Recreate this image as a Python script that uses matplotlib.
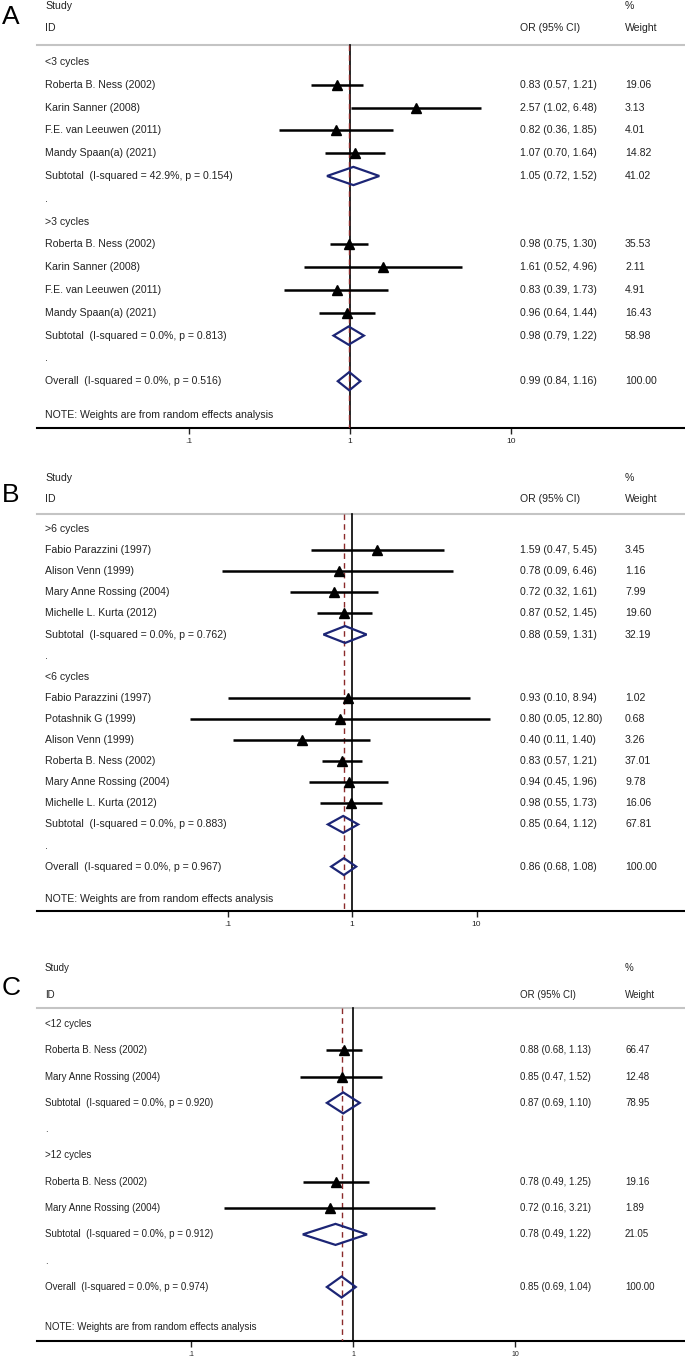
import matplotlib.pyplot as plt
from matplotlib.patches import Polygon
from matplotlib.ticker import NullLocator

plt.rcParams['font.family'] = ['Liberation Sans', 'DejaVu Sans']

# ---------------- Panel A ----------------
a_groups = ["<3 cycles", ">3 cycles"]
a_studies = [["Roberta B. Ness (2002)", "Karin Sanner (2008)", "F.E. van Leeuwen (2011)", "Mandy Spaan(a) (2021)"],
             ["Roberta B. Ness (2002)", "Karin Sanner (2008)", "F.E. van Leeuwen (2011)", "Mandy Spaan(a) (2021)"]]
a_or = [[0.83, 2.57, 0.82, 1.07], [0.98, 1.61, 0.83, 0.96]]
a_lo = [[0.57, 1.02, 0.36, 0.70], [0.75, 0.52, 0.39, 0.64]]
a_hi = [[1.21, 6.48, 1.85, 1.64], [1.30, 4.96, 1.73, 1.44]]
a_w = [[19.06, 3.13, 4.01, 14.82], [35.53, 2.11, 4.91, 16.43]]
a_sub_text = ["Subtotal  (I-squared = 42.9%, p = 0.154)", "Subtotal  (I-squared = 0.0%, p = 0.813)"]
a_sub = [(1.05, 0.72, 1.52, 41.02), (0.98, 0.79, 1.22, 58.98)]
a_all_text = "Overall  (I-squared = 0.0%, p = 0.516)"
a_all = (0.99, 0.84, 1.16, 100.00)

# ---------------- Panel B ----------------
b_groups = [">6 cycles", "<6 cycles"]
b_studies = [["Fabio Parazzini (1997)", "Alison Venn (1999)", "Mary Anne Rossing (2004)", "Michelle L. Kurta (2012)"],
             ["Fabio Parazzini (1997)", "Potashnik G (1999)", "Alison Venn (1999)", "Roberta B. Ness (2002)",
              "Mary Anne Rossing (2004)", "Michelle L. Kurta (2012)"]]
b_or = [[1.59, 0.78, 0.72, 0.87], [0.93, 0.80, 0.40, 0.83, 0.94, 0.98]]
b_lo = [[0.47, 0.09, 0.32, 0.52], [0.10, 0.05, 0.11, 0.57, 0.45, 0.55]]
b_hi = [[5.45, 6.46, 1.61, 1.45], [8.94, 12.80, 1.40, 1.21, 1.96, 1.73]]
b_w = [[3.45, 1.16, 7.99, 19.60], [1.02, 0.68, 3.26, 37.01, 9.78, 16.06]]
b_sub_text = ["Subtotal  (I-squared = 0.0%, p = 0.762)", "Subtotal  (I-squared = 0.0%, p = 0.883)"]
b_sub = [(0.88, 0.59, 1.31, 32.19), (0.85, 0.64, 1.12, 67.81)]
b_all_text = "Overall  (I-squared = 0.0%, p = 0.967)"
b_all = (0.86, 0.68, 1.08, 100.00)

# ---------------- Panel C ----------------
c_groups = ["<12 cycles", ">12 cycles"]
c_studies = [["Roberta B. Ness (2002)", "Mary Anne Rossing (2004)"],
             ["Roberta B. Ness (2002)", "Mary Anne Rossing (2004)"]]
c_or = [[0.88, 0.85], [0.78, 0.72]]
c_lo = [[0.68, 0.47], [0.49, 0.16]]
c_hi = [[1.13, 1.52], [1.25, 3.21]]
c_w = [[66.47, 12.48], [19.16, 1.89]]
c_sub_text = ["Subtotal  (I-squared = 0.0%, p = 0.920)", "Subtotal  (I-squared = 0.0%, p = 0.912)"]
c_sub = [(0.87, 0.69, 1.10, 78.95), (0.78, 0.49, 1.22, 21.05)]
c_all_text = "Overall  (I-squared = 0.0%, p = 0.974)"
c_all = (0.85, 0.69, 1.04, 100.00)

tick_vals = [0.1, 1, 10]
tick_text = [".1", "1", "10"]
note_text = "NOTE: Weights are from random effects analysis"

W, H = 685, 1357
TXT = '#222222'
NAVY = '#1c2575'
RED = '#8b2a2a'

fig = plt.figure(figsize=(W / 100, H / 100), dpi=100)


def draw_panel(letter, groups, studies, ors, los, his, ws, sub_text, subs, all_text, overall,
               study_y, id_y, rule_y, row0, step, note_y, axis_y, one_px, decade, fs, tfs, letter_y):
    # axes spans the x axis line (px 37 -> 685) and the panel height
    top = study_y - 12
    ax = fig.add_axes([37 / W, 1 - axis_y / H, 648 / W, (axis_y - top) / H])
    ax.set_xscale('log')
    ax.set_xlim(10 ** ((37 - one_px) / decade), 10 ** ((685 - one_px) / decade))
    ax.set_ylim(axis_y, top)
    for s in ['left', 'right', 'top']:
        ax.spines[s].set_visible(False)
    ax.spines['bottom'].set_linewidth(1.5)
    ax.set_yticks([])
    ax.set_xticks(tick_vals)
    ax.set_xticklabels(tick_text)
    ax.xaxis.set_minor_locator(NullLocator())
    ax.tick_params(axis='x', direction='out', length=4, width=1, labelsize=tfs, pad=3, colors=TXT)

    tr = ax.get_yaxis_transform()
    xl = (45 - 37) / 648
    xo = (520 - 37) / 648
    xw = (625 - 37) / 648

    def txt(x, y, s):
        ax.text(x, y, s, transform=tr, fontsize=fs, color=TXT, va='center', ha='left', clip_on=False)

    def diamond(y, est, lo, hi):
        h = step * 0.4
        ax.add_patch(Polygon([(lo, y), (est, y - h), (hi, y), (est, y + h)], closed=True,
                             facecolor='none', edgecolor=NAVY, lw=1.6, zorder=4))

    txt(xl, study_y, "Study")
    txt(xl, id_y, "ID")
    txt(xw, study_y, "%")
    txt(xo, id_y, "OR (95% CI)")
    txt(xw, id_y, "Weight")
    ax.axhline(rule_y, color='#c4c4c4', lw=1.5, clip_on=False)

    # reference line at 1 and dashed overall line
    ax.plot([1, 1], [rule_y, axis_y], color='black', lw=1.2, zorder=2)
    ax.plot([overall[0]] * 2, [rule_y, axis_y], color=RED, lw=1.0, ls=(0, (4, 3)), zorder=3)

    r = 0
    for g in range(len(groups)):
        txt(xl, row0 + r * step, groups[g])
        r += 1
        for i in range(len(studies[g])):
            y = row0 + r * step
            txt(xl, y, studies[g][i])
            ax.plot([los[g][i], his[g][i]], [y, y], color='black', lw=1.8, zorder=4, solid_capstyle='butt')
            ax.plot(ors[g][i], y, marker='^', color='black', ms=6.5, zorder=5)
            txt(xo, y, f"{ors[g][i]:.2f} ({los[g][i]:.2f}, {his[g][i]:.2f})")
            txt(xw, y, f"{ws[g][i]:.2f}")
            r += 1
        y = row0 + r * step
        est, lo, hi, w = subs[g]
        txt(xl, y, sub_text[g])
        diamond(y, est, lo, hi)
        txt(xo, y, f"{est:.2f} ({lo:.2f}, {hi:.2f})")
        txt(xw, y, f"{w:.2f}")
        r += 1
        txt(xl, row0 + r * step, ".")
        r += 1
    y = row0 + r * step
    est, lo, hi, w = overall
    txt(xl, y, all_text)
    diamond(y, est, lo, hi)
    txt(xo, y, f"{est:.2f} ({lo:.2f}, {hi:.2f})")
    txt(xw, y, f"{w:.2f}")
    txt(xl, note_y, note_text)

    fig.text(2 / W, 1 - letter_y / H, letter, fontsize=19, color='black', va='center', ha='left')


draw_panel("A", a_groups, a_studies, a_or, a_lo, a_hi, a_w, a_sub_text, a_sub, a_all_text, a_all,
           study_y=6, id_y=28, rule_y=45, row0=62, step=22.8, note_y=415, axis_y=428,
           one_px=350, decade=161, fs=7.6, tfs=6, letter_y=17)
draw_panel("B", b_groups, b_studies, b_or, b_lo, b_hi, b_w, b_sub_text, b_sub, b_all_text, b_all,
           study_y=478, id_y=499, rule_y=514, row0=529, step=21.1, note_y=899, axis_y=911,
           one_px=352, decade=124.5, fs=7.6, tfs=6, letter_y=495)
draw_panel("C", c_groups, c_studies, c_or, c_lo, c_hi, c_w, c_sub_text, c_sub, c_all_text, c_all,
           study_y=968, id_y=995, rule_y=1008, row0=1024, step=26.3, note_y=1327, axis_y=1341,
           one_px=353, decade=162, fs=7.0, tfs=5, letter_y=988)

fig.savefig("out.png", dpi=100, facecolor='white')
